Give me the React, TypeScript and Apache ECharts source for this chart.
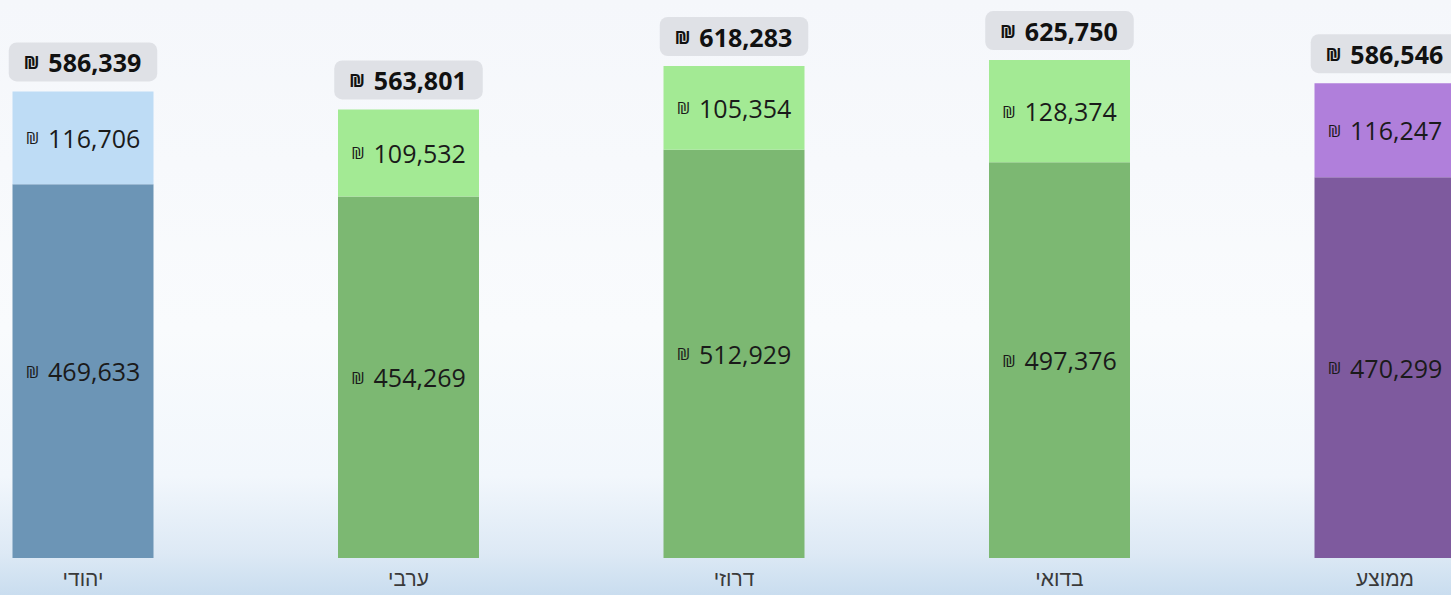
import React, { useEffect, useRef } from "react";
import * as echarts from "echarts";

const categories = ["יהודי", "ערבי", "דרוזי", "בדואי", "ממוצע"];
const baseValues = [469633, 454269, 512929, 497376, 470299];
const extraValues = [116706, 109532, 105354, 128374, 116247];
const baseColors = ["#6c95b6", "#7cb872", "#7cb872", "#7cb872", "#7e5a9e"];
const extraColors = ["#bedcf5", "#a3ea94", "#a3ea94", "#a3ea94", "#b07fdb"];
const avgIndex = 4;

const fmt = (v: number) => v.toLocaleString("en-US");
const NUM_FONT = "'Open Sans', 'Noto Sans', 'DejaVu Sans', sans-serif";

export default function App() {
  const ref = useRef<HTMLDivElement>(null);
  useEffect(() => {
    if (!ref.current) return;
    const chart = echarts.init(ref.current, undefined, { renderer: "svg" });
    const totals = baseValues.map((v, i) => v + extraValues[i]);

    const pick = (arr: number[], avg: boolean) =>
      arr.map((v, i) => ((i === avgIndex) === avg ? v : "-"));

    const insideLabel = {
      show: true,
      position: "inside",
      formatter: (p: any) => `{s|₪}{n|${fmt(p.value)}}`,
      rich: {
        s: { fontSize: 17, color: "#1a1a1a", fontFamily: NUM_FONT, padding: [0, 9, 0, 0] },
        n: { fontSize: 25, color: "#1a1a1a", fontFamily: NUM_FONT },
      },
    };
    const topLabel = {
      show: true,
      position: "top",
      distance: 10,
      backgroundColor: "#dfe1e6",
      borderRadius: 8,
      padding: [5, 16, 4, 15],
      formatter: (p: any) => `{s|₪}{n|${fmt(totals[p.dataIndex])}}`,
      rich: {
        s: { fontSize: 17, fontWeight: "bold", color: "#111", fontFamily: NUM_FONT, padding: [0, 9, 0, 0] },
        n: { fontSize: 25, fontWeight: "bold", color: "#111", fontFamily: NUM_FONT, lineHeight: 30 },
      },
    };

    const colored = (arr: (number | string)[], colors: string[]) =>
      arr.map((v, i) => ({ value: v, itemStyle: { color: colors[i] } }));

    const makeGroup = (avg: boolean) => {
      const stack = avg ? "avg" : "main";
      const yAxisIndex = avg ? 1 : 0;
      const common = { type: "bar", stack, yAxisIndex, barWidth: 141, barGap: "-100%", clip: false };
      return [
        { ...common, data: colored(pick(baseValues, avg), baseColors), label: insideLabel },
        { ...common, data: colored(pick(extraValues, avg), extraColors), label: insideLabel },
        {
          ...common,
          data: pick(baseValues.map(() => 0), avg),
          itemStyle: { color: "transparent" },
          label: topLabel,
        },
      ];
    };

    chart.setOption({
      animation: false,
      backgroundColor: "transparent",
      grid: { left: 83, right: 66, top: 1, bottom: 37 },
      xAxis: {
        type: "category",
        data: categories,
        boundaryGap: false,
        axisLine: { show: false },
        axisTick: { show: false },
        splitLine: { show: false },
        axisLabel: {
          fontSize: 21,
          color: "#3a3a3a",
          margin: 10,
          fontFamily: "'Liberation Sans', 'DejaVu Sans', sans-serif",
        },
      },
      yAxis: [
        { type: "value", min: 0, max: 700000, show: false, splitLine: { show: false } },
        { type: "value", min: 0, max: 688000, show: false, splitLine: { show: false } },
      ],
      series: [...makeGroup(false), ...makeGroup(true)],
    });
    return () => chart.dispose();
  }, []);

  return (
    <div
      style={{
        position: "fixed",
        left: 0,
        top: 0,
        width: 1451,
        height: 595,
        background:
          "linear-gradient(to bottom, #f5f7fb 0%, #f9fbfd 55%, #f2f7fc 80%, #dde9f5 93%, #c9ddef 100%)",
      }}
    >
      <div ref={ref} style={{ width: 1451, height: 595 }} />
    </div>
  );
}
